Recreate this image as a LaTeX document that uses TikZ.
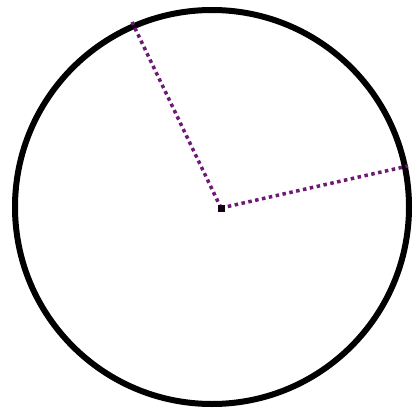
\documentclass[tikz,border=0pt]{standalone}
\definecolor{dotpurple}{RGB}{110,25,120}
\begin{document}
\begin{tikzpicture}[x=1pt,y=-1pt,
  rim/.style={line width=6pt,draw=black},
  radius line/.style={draw=dotpurple,line width=3.5pt,dash pattern=on 3.5pt off 3.5pt},
  centre dot/.style={fill=black!85!dotpurple,minimum size=7pt,inner sep=0pt,draw=none}]
\useasboundingbox (0,0) rectangle (415,412);
\fill[white] (0,0) rectangle (415,412);
\draw[rim] (212,207) circle[radius=197];
\node[centre dot] (c) at (221,208) {};
\coordinate (p1) at (132,22);
\coordinate (p2) at (408,166);
\draw[radius line] (c.center) -- (p1);
\draw[radius line] (c.center) -- (p2);
\node[centre dot] at (221,208) {};
\end{tikzpicture}
\end{document}
